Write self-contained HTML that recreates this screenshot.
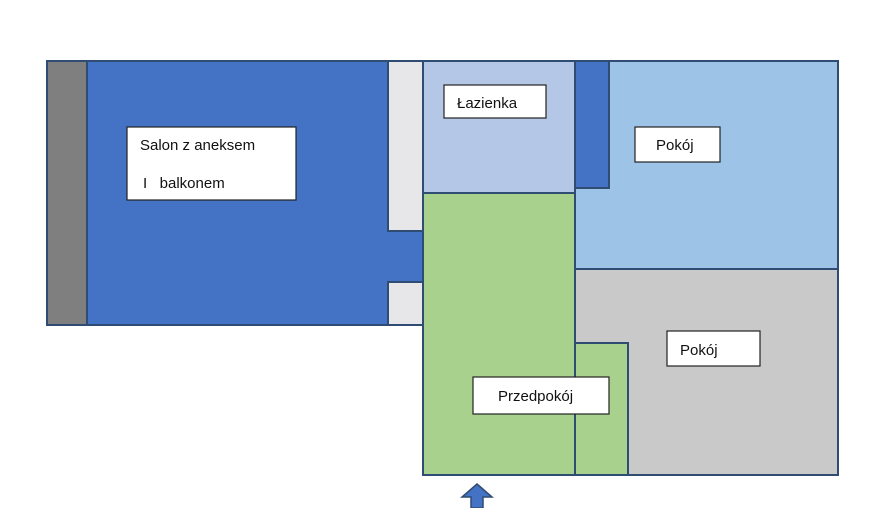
<!DOCTYPE html>
<html><head><style>body{margin:0;background:#fff}svg{display:block}</style></head><body>
<svg width="881" height="508" xmlns="http://www.w3.org/2000/svg" font-family="Liberation Sans, DejaVu Sans, sans-serif" font-size="15">
<g stroke="#2f4d72" stroke-width="2">
<rect x="47" y="61" width="40" height="264" fill="#7f7f7f"/>
<rect x="87" y="61" width="301" height="264" fill="#4472c4"/>
<rect x="388" y="61" width="35" height="170" fill="#e7e7e9"/>
<rect x="388" y="282" width="35" height="43" fill="#e7e7e9"/>
<rect x="423" y="61" width="152" height="132" fill="#b4c7e7"/>
<rect x="423" y="193" width="152" height="282" fill="#a9d18e"/>
<rect x="575" y="61" width="263" height="208" fill="#9dc3e6"/>
<rect x="575" y="61" width="34" height="127" fill="#4472c4"/>
<rect x="575" y="269" width="263" height="206" fill="#c9c9c9"/>
<rect x="575" y="343" width="53" height="132" fill="#a9d18e"/>
</g>
<rect x="386" y="232" width="36" height="49" fill="#4472c4"/>
<g fill="#fff" stroke="#222" stroke-width="1.2">
<rect x="127" y="127" width="169" height="73"/>
<rect x="444" y="85" width="102" height="33"/>
<rect x="635" y="127" width="85" height="35"/>
<rect x="667" y="331" width="93" height="35"/>
<rect x="473" y="377" width="136" height="37"/>
</g>
<g fill="#111">
<text x="140" y="150">Salon z aneksem</text>
<text x="143" y="188">I&#160;&#160;&#160;balkonem</text>
<text x="457" y="108">Łazienka</text>
<text x="656" y="150">Pokój</text>
<text x="680" y="355">Pokój</text>
<text x="498" y="401">Przedpokój</text>
</g>
<polygon points="477,484 492,497 483,497 483,508 471,508 471,497 462,497" fill="#4472c4" stroke="#2f4d72" stroke-width="1.5"/>
</svg>
</body></html>
